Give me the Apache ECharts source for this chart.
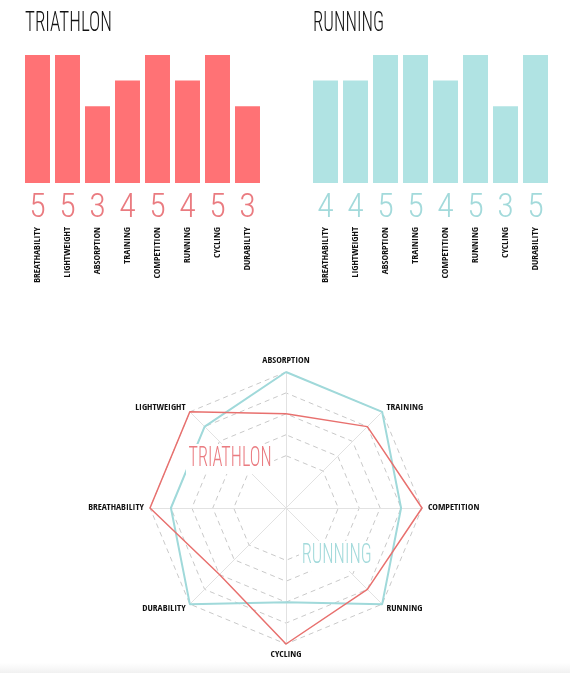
<!DOCTYPE html>
<html>
<head>
    <meta charset="utf-8">
    <title>Triathlon vs Running</title>
    <script src="https://cdn.jsdelivr.net/npm/echarts@6/dist/echarts.min.js"></script>
    <style>
        html, body { margin: 0; padding: 0; background: #fff; }
    </style>
</head>
<body>
<div id="main" style="width: 570px;height:673px;"></div>
<script type="text/javascript">
    // categories and scores (0-5)
    var categories = ['BREATHABILITY', 'LIGHTWEIGHT', 'ABSORPTION', 'TRAINING',
        'COMPETITION', 'RUNNING', 'CYCLING', 'DURABILITY'];
    var triathlon = [5, 5, 3, 4, 5, 4, 5, 3];
    var running = [4, 4, 5, 5, 4, 5, 3, 5];
    // radar goes round counter-clockwise from the top
    var radarOrder = ['ABSORPTION', 'LIGHTWEIGHT', 'BREATHABILITY', 'DURABILITY',
        'CYCLING', 'RUNNING', 'COMPETITION', 'TRAINING'];

    var RED = '#ff7275', RED_TXT = '#ea7b80', RED_LINE = '#e8706e';
    var TEAL = '#b0e3e3', TEAL_TXT = '#a3dadb', TEAL_LINE = '#a0d9da';
    var THIN = '"Roboto Condensed", "DejaVu Sans Condensed", sans-serif';
    var BOLD = '"Open Sans Condensed", "DejaVu Sans Condensed", sans-serif';

    var myChart = echarts.init(document.getElementById('main'));

    function pick(values) {
        return radarOrder.map(function (name) {
            return values[categories.indexOf(name)];
        });
    }

    // squeeze a light condensed text to the given width
    var ctx = document.createElement('canvas').getContext('2d');
    function squeezed(text, x, y, size, width, color, bg) {
        var font = '300 ' + size + 'px ' + THIN;
        ctx.font = font;
        var s = width / ctx.measureText(text).width;
        var style = {text: text, font: font, fill: color, verticalAlign: 'top'};
        if (bg) {
            style.backgroundColor = '#fff';
            style.padding = [1, 4];
        }
        return {type: 'text', x: x, y: y, scaleX: s, z: 100, style: style};
    }

    function numberAxis(gridIndex, values, color) {
        return {
            type: 'category', gridIndex: gridIndex, data: categories,
            axisLine: {show: false}, axisTick: {show: false},
            axisLabel: {
                interval: 0, margin: 8, fontSize: 34, color: color,
                fontFamily: THIN, fontWeight: 300,
                formatter: function (v, i) { return values[i]; }
            }
        };
    }

    function nameAxis(gridIndex) {
        return {
            type: 'category', gridIndex: gridIndex, data: categories, position: 'bottom',
            offset: 40,
            axisLine: {show: false}, axisTick: {show: false},
            axisLabel: {
                interval: 0, rotate: 90, margin: 4, fontSize: 9.5, color: '#111',
                fontFamily: BOLD, fontWeight: 'bold'
            }
        };
    }

    // ring at each 0.5 step from -1.5 to 5, only 1..5 are drawn
    var ringColors = [];
    for (var i = 0; i <= 13; i++) {
        ringColors.push(i >= 5 && i % 2 === 1 ? '#c9c9c9' : 'rgba(0,0,0,0)');
    }

    myChart.setOption({
        animation: false,
        grid: [
            {left: 22.5, top: 55, width: 240, height: 128},
            {left: 310.5, top: 55, width: 240, height: 128}
        ],
        xAxis: [
            numberAxis(0, triathlon, RED_TXT),
            nameAxis(0),
            numberAxis(1, running, TEAL_TXT),
            nameAxis(1)
        ],
        yAxis: [
            {type: 'value', gridIndex: 0, min: 0, max: 5, show: false},
            {type: 'value', gridIndex: 1, min: 0, max: 5, show: false}
        ],
        radar: {
            center: [286, 508],
            radius: 136,
            startAngle: 90,
            splitNumber: 13,
            shape: 'polygon',
            indicator: radarOrder.map(function (name) {
                return {name: name, min: -1.5, max: 5};
            }),
            axisName: {
                color: '#111', fontSize: 9.5, fontWeight: 'bold', fontFamily: BOLD
            },
            nameGap: 6,
            axisLine: {lineStyle: {color: '#e2e2e2', width: 1}},
            splitLine: {lineStyle: {color: ringColors, type: [5, 4], width: 1}},
            splitArea: {show: false}
        },
        series: [
            {
                type: 'bar', xAxisIndex: 0, yAxisIndex: 0, data: triathlon,
                barCategoryGap: '16.7%', itemStyle: {color: RED}
            },
            {
                type: 'bar', xAxisIndex: 2, yAxisIndex: 1, data: running,
                barCategoryGap: '16.7%', itemStyle: {color: TEAL}
            },
            {
                type: 'radar', symbol: 'none',
                data: [
                    {value: pick(running), name: 'RUNNING',
                        lineStyle: {color: TEAL_LINE, width: 2}},
                    {value: pick(triathlon), name: 'TRIATHLON',
                        lineStyle: {color: RED_LINE, width: 1.5}}
                ]
            }
        ],
        graphic: [
            squeezed('TRIATHLON', 25, 10, 28, 87, '#111'),
            squeezed('RUNNING', 313, 10, 28, 71, '#111'),
            squeezed('TRIATHLON', 186, 444, 28, 83, RED_TXT, true),
            squeezed('RUNNING', 299, 541, 28, 70, TEAL_TXT, true),
            {
                // faint grey fade along the bottom edge
                type: 'rect', left: 0, bottom: 0, z: -1,
                shape: {width: 570, height: 10},
                style: {
                    fill: new echarts.graphic.LinearGradient(0, 0, 0, 1, [
                        {offset: 0, color: '#ffffff'},
                        {offset: 1, color: '#f1f1f1'}
                    ])
                }
            }
        ]
    });
</script>
</body>
</html>
